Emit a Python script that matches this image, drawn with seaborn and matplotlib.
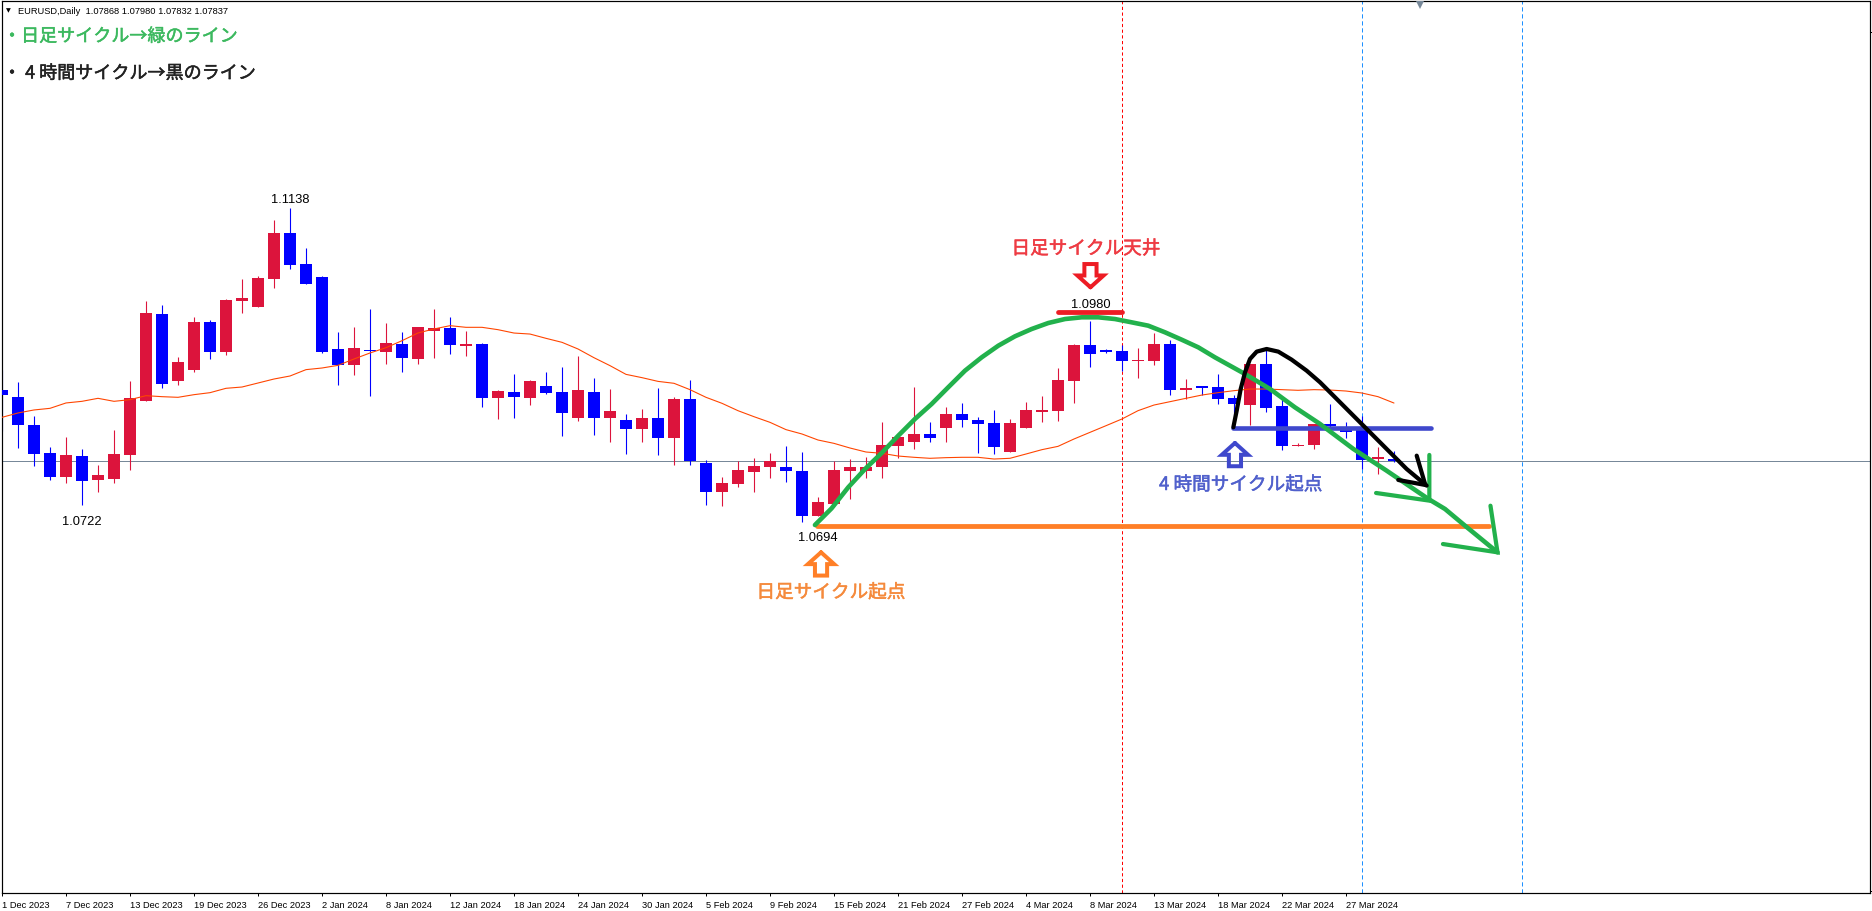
#!/usr/bin/env python

import seaborn as sns
import matplotlib.pyplot as plt
import matplotlib.patheffects as pe
import pandas as pd

# Daily EURUSD candles
opens = [1.08834, 1.08736, 1.08345, 1.07953, 1.07618, 1.07911, 1.07576, 1.07590, 1.07925, 1.08681,
         1.09897, 1.08960, 1.09114, 1.09785, 1.09366, 1.10079, 1.09995, 1.10387, 1.11030, 1.10597,
         1.10415, 1.09408, 1.09184, 1.09394, 1.09366, 1.09478, 1.09268, 1.09660, 1.09702, 1.09450,
         1.09478, 1.08722, 1.08806, 1.08722, 1.08890, 1.08806, 1.08443, 1.08806, 1.08443, 1.08415,
         1.08289, 1.08443, 1.08163, 1.08708, 1.07813, 1.07408, 1.07520, 1.07687, 1.07757, 1.07757,
         1.07701, 1.07072, 1.07240, 1.07701, 1.07701, 1.07757, 1.08051, 1.08107, 1.08219, 1.08303,
         1.08499, 1.08415, 1.08373, 1.07967, 1.08303, 1.08527, 1.08541, 1.08960, 1.09464, 1.09394,
         1.09380, 1.09240, 1.09240, 1.09478, 1.08834, 1.08890, 1.08876, 1.08722, 1.08624, 1.09198,
         1.08610, 1.08051, 1.08065, 1.08359, 1.08275, 1.08303, 1.07869, 1.07868]
highs = [1.09114, 1.08946, 1.08471, 1.08037, 1.08177, 1.08009, 1.07785, 1.08275, 1.08960, 1.10079,
         1.10023, 1.09296, 1.09855, 1.09813, 1.10107, 1.10387, 1.10429, 1.11212, 1.11380, 1.10820,
         1.10429, 1.09646, 1.09715, 1.09967, 1.09771, 1.09646, 1.09715, 1.09967, 1.09855, 1.09660,
         1.09492, 1.08834, 1.09058, 1.08974, 1.09086, 1.09156, 1.09310, 1.09002, 1.08848, 1.08499,
         1.08569, 1.08862, 1.08736, 1.08974, 1.07855, 1.07617, 1.07841, 1.07883, 1.07953, 1.08051,
         1.07967, 1.07338, 1.07841, 1.07869, 1.07897, 1.08387, 1.08233, 1.08876, 1.08387, 1.08597,
         1.08652, 1.08457, 1.08555, 1.08429, 1.08666, 1.08750, 1.09142, 1.09478, 1.09799, 1.09408,
         1.09464, 1.09422, 1.09631, 1.09534, 1.08988, 1.08890, 1.09058, 1.08764, 1.09198, 1.09408,
         1.08708, 1.08093, 1.08359, 1.08638, 1.08387, 1.08471, 1.08037, 1.07980]
lows = [1.08266, 1.08023, 1.07771, 1.07576, 1.07534, 1.07226, 1.07408, 1.07534, 1.07715, 1.08681,
        1.08862, 1.08904, 1.09086, 1.09268, 1.09324, 1.09911, 1.09995, 1.10261, 1.10527, 1.10317,
        1.09352, 1.08904, 1.09044, 1.08750, 1.09198, 1.09086, 1.09198, 1.09282, 1.09338, 1.09310,
        1.08597, 1.08429, 1.08443, 1.08624, 1.08778, 1.08191, 1.08401, 1.08205, 1.08107, 1.07939,
        1.08107, 1.07925, 1.07785, 1.07785, 1.07226, 1.07212, 1.07478, 1.07408, 1.07604, 1.07548,
        1.06988, 1.07072, 1.07240, 1.07310, 1.07604, 1.07604, 1.07883, 1.08009, 1.08107, 1.08107,
        1.08317, 1.07953, 1.07939, 1.07967, 1.08303, 1.08387, 1.08401, 1.08652, 1.09161, 1.09352,
        1.09100, 1.09002, 1.09184, 1.08764, 1.08708, 1.08764, 1.08638, 1.08335, 1.08345, 1.08527,
        1.07995, 1.08051, 1.08009, 1.08289, 1.08163, 1.07729, 1.07659, 1.07832]
closes = [1.08764, 1.08345, 1.07939, 1.07618, 1.07925, 1.07562, 1.07646, 1.07939, 1.08722, 1.09911,
          1.08918, 1.09226, 1.09785, 1.09366, 1.10093, 1.10121, 1.10401, 1.11030, 1.10583, 1.10317,
          1.09366, 1.09184, 1.09422, 1.09380, 1.09492, 1.09282, 1.09715, 1.09702, 1.09464, 1.09478,
          1.08722, 1.08820, 1.08736, 1.08960, 1.08792, 1.08513, 1.08834, 1.08443, 1.08541, 1.08289,
          1.08443, 1.08163, 1.08708, 1.07841, 1.07408, 1.07534, 1.07715, 1.07771, 1.07841, 1.07701,
          1.07072, 1.07268, 1.07715, 1.07757, 1.07757, 1.08065, 1.08177, 1.08219, 1.08163, 1.08499,
          1.08415, 1.08359, 1.08037, 1.08373, 1.08555, 1.08555, 1.08974, 1.09464, 1.09338, 1.09366,
          1.09240, 1.09254, 1.09478, 1.08834, 1.08862, 1.08862, 1.08708, 1.08638, 1.09198, 1.08583,
          1.08051, 1.08065, 1.08359, 1.08331, 1.08247, 1.07855, 1.07897, 1.07837]
moving_avg = [1.08452, 1.08513, 1.08555, 1.08578, 1.08653, 1.08676, 1.08718, 1.08676, 1.08699, 1.08755,
              1.08741, 1.08732, 1.08769, 1.08797, 1.08858, 1.08876, 1.08932, 1.08988, 1.09030, 1.09119,
              1.09142, 1.09179, 1.09268, 1.09352, 1.09426, 1.09524, 1.09632, 1.09688, 1.09734, 1.09711,
              1.09711, 1.09678, 1.09631, 1.09617, 1.09557, 1.09501, 1.09408, 1.09286, 1.09175, 1.09053,
              1.09007, 1.08955, 1.08928, 1.08839, 1.08732, 1.08648, 1.08545, 1.08461, 1.08382, 1.08280,
              1.08219, 1.08135, 1.08088, 1.08023, 1.07967, 1.07949, 1.07911, 1.07893, 1.07879, 1.07888,
              1.07893, 1.07893, 1.07869, 1.07879, 1.07939, 1.08000, 1.08046, 1.08149, 1.08242, 1.08335,
              1.08429, 1.08545, 1.08624, 1.08671, 1.08718, 1.08764, 1.08797, 1.08825, 1.08848, 1.08848,
              1.08839, 1.08830, 1.08839, 1.08834, 1.08820, 1.08792, 1.08741, 1.08652]

tick_labels = ["1 Dec 2023", "7 Dec 2023", "13 Dec 2023", "19 Dec 2023", "26 Dec 2023", "2 Jan 2024",
               "8 Jan 2024", "12 Jan 2024", "18 Jan 2024", "24 Jan 2024", "30 Jan 2024", "5 Feb 2024",
               "9 Feb 2024", "15 Feb 2024", "21 Feb 2024", "27 Feb 2024", "4 Mar 2024", "8 Mar 2024",
               "13 Mar 2024", "18 Mar 2024", "22 Mar 2024", "27 Mar 2024"]

last_price = 1.07837
red_vline = 70
blue_vlines = [85, 95]

# hand drawn lines: bar position and price
green_x = [50.81, 51.85, 52.89, 53.94, 54.98, 56.02, 57.06, 58.10, 59.14, 60.19, 61.23, 62.27, 63.31,
           64.35, 65.39, 66.44, 67.48, 68.52, 69.56, 70.60, 71.64, 72.69, 73.73, 74.77, 75.81,
           77.69, 79.25, 80.81, 82.38, 84.46, 86.54, 89.15, 90.19, 91.56, 93.47]
green_y = [1.06946, 1.07179, 1.07473, 1.07729, 1.07953, 1.08196, 1.08429, 1.08638, 1.08872, 1.09105,
           1.09291, 1.09454, 1.09585, 1.09687, 1.09771, 1.09827, 1.09851, 1.09851, 1.09827, 1.09781,
           1.09734, 1.09641, 1.09538, 1.09431, 1.09291, 1.09058, 1.08849, 1.08592, 1.08359, 1.08010,
           1.07706, 1.07310, 1.07170, 1.06914, 1.06564]
green_head1_x = [89.21, 89.21, 85.88]
green_head1_y = [1.07926, 1.07287, 1.07394]
green_head2_x = [93.03, 93.47, 90.06]
green_head2_y = [1.07216, 1.06564, 1.06680]
black_x = [76.96, 77.17, 77.42, 77.69, 78.0, 78.42, 79.04, 79.77, 80.6, 81.54, 82.38, 83.42, 84.46,
           85.5, 86.54, 87.79, 89.04]
black_y = [1.08313, 1.08546, 1.08849, 1.09082, 1.09268, 1.09371, 1.09408, 1.09371, 1.09259, 1.09105,
           1.08942, 1.08709, 1.08476, 1.08243, 1.08010, 1.07730, 1.07497]
black_head_x = [88.42, 88.96, 87.27]
black_head_y = [1.07916, 1.07506, 1.07576]

# level lines: price, first bar, last bar
orange_level = (1.06928, 50.92, 92.94)
blue_level = (1.08299, 76.95, 89.30)
red_level = (1.09921, 66.0, 70.03)

GREEN = "#22B14C"
ORANGE = "#FF7F27"
RED = "#ED1C24"
INDIGO = "#3F48CC"

W, H = 1872, 912
PX = 0.72  # one pixel in points at dpi 100


def fig_text(x, y, s, **kw):
    # x, y are pixels from the top left corner of the picture
    fig.text(x / W, 1 - y / H, s, **kw)


def jp_text(x, y, s, color, size):
    # small stroke because the original font is heavier than regular Noto
    fig_text(x, y, s, fontsize=size, color=color, va="center",
             path_effects=[pe.withStroke(linewidth=0.35, foreground=color)])


def block_arrow(bar, tip, sign, color):
    # hollow arrow, sign 1 points up and -1 points down
    head = 0.00165 * sign
    tail = 0.00325 * sign
    xs = [bar, bar + 0.82, bar + 0.38, bar + 0.38, bar - 0.38, bar - 0.38, bar - 0.82, bar]
    ys = [tip, tip - head, tip - head, tip - tail, tip - tail, tip - head, tip - head, tip]
    ax.plot(xs, ys, color=color, lw=4 * PX, solid_joinstyle="miter", zorder=6)


df = pd.DataFrame({"open": opens, "high": highs, "low": lows, "close": closes, "ma": moving_avg})
df["bar"] = df.index
df["color"] = ["#DC143C" if c > o else "#0000FF" for o, c in zip(df["open"], df["close"])]
df["top"] = df[["open", "close"]].max(axis=1)
df["bottom"] = df[["open", "close"]].min(axis=1)

sns.set_theme(style="white")
plt.rcParams["font.family"] = ["Noto Sans CJK JP", "DejaVu Sans"]

fig = plt.figure(figsize=(W / 100, H / 100), dpi=100, facecolor="white")
ax = fig.add_axes([1.5 / W, (H - 894.3) / H, 1868 / W, 892.3 / H])

# price line and cycle markers sit behind the candles
ax.axhline(last_price, color="#778899", lw=PX, zorder=1)
ax.axvline(red_vline, color="#FF0000", lw=PX, ls=(0, (3.2, 2.5)), zorder=1)
for b in blue_vlines:
    ax.axvline(b, color="#1E90FF", lw=PX, ls=(0, (4.2, 2.8)), zorder=1)

ax.vlines(df["bar"], df["low"], df["high"], colors=df["color"], lw=PX * 1.1, zorder=2)
ax.bar(df["bar"], df["top"] - df["bottom"], bottom=df["bottom"], width=0.69,
       color=df["color"], linewidth=0, zorder=3)
sns.lineplot(data=df, x="bar", y="ma", color="#FF4500", lw=1.1 * PX, errorbar=None, ax=ax, zorder=4)

for level, color, lw in [(orange_level, ORANGE, 4.8), (blue_level, INDIGO, 4.6), (red_level, RED, 4.8)]:
    ax.plot(level[1:], [level[0], level[0]], color=color, lw=lw * PX, solid_capstyle="round", zorder=5)

sns.lineplot(x=green_x, y=green_y, sort=False, color=GREEN, lw=4.6 * PX, errorbar=None, ax=ax, zorder=6,
             solid_joinstyle="round", solid_capstyle="round")
sns.lineplot(x=black_x, y=black_y, sort=False, color="black", lw=4.2 * PX, errorbar=None, ax=ax, zorder=7,
             solid_joinstyle="round", solid_capstyle="round")
for xs, ys in [(green_head1_x, green_head1_y), (green_head2_x, green_head2_y)]:
    ax.plot(xs, ys, color=GREEN, lw=4.2 * PX, solid_capstyle="round", solid_joinstyle="miter", zorder=6)
ax.plot(black_head_x, black_head_y, color="black", lw=4.2 * PX, solid_capstyle="round", zorder=7)

block_arrow(51.19, 1.06564, 1, ORANGE)
block_arrow(68.03, 1.10271, -1, RED)
block_arrow(77.06, 1.08093, 1, INDIGO)

# little scale marker on the top edge
ax.plot([88.6], [1.14233], marker="v", ms=6.5, color="#778899", mew=0, ls="none", zorder=8)

ax.set_xlim(-0.03125, 116.72)
ax.set_ylim(1.01795, 1.14275)
ax.set_xlabel("")
ax.set_ylabel("")
ax.set_xticks(range(0, len(tick_labels) * 4, 4))
ax.set_xticklabels(tick_labels, ha="left", fontsize=6.7, family="Liberation Sans", color="black")
ax.yaxis.tick_right()
ax.set_yticks([1.01831, 1.13841])
ax.set_yticklabels(["", ""])
ax.tick_params(axis="x", length=3 * PX, width=PX, pad=2.5, color="black", bottom=True)
ax.tick_params(axis="y", length=2 * PX, width=PX, right=True, color="black")
for spine in ax.spines.values():
    spine.set_color("black")
    spine.set_linewidth(PX * 1.2)

# header
fig_text(8, 11, "\u25bc", fontsize=4.5, color="black", ha="center", va="center", family="DejaVu Sans")
fig_text(17.5, 11, "EURUSD,Daily  1.07868 1.07980 1.07832 1.07837", fontsize=6.7, color="black",
         va="center", family="Liberation Sans")
jp_text(3, 37.5, "・日足サイクル→緑のライン", "#3CB95F", 13)
jp_text(3, 74.5, "・ 4 時間サイクル→黒のライン", "#222222", 13)

# high and low labels
for x, y, s in [(290.7, 200, "1.1138"), (82.3, 522.3, "1.0722"), (818.3, 538.3, "1.0694"), (1090.4, 305, "1.0980")]:
    fig_text(x, y, s, fontsize=9.3, color="black", ha="center", va="center", family="Liberation Sans")

jp_text(756.5, 593.7, "日足サイクル起点", "#F58A3C", 13.4)
jp_text(1011.5, 250, "日足サイクル天井", "#EE3B43", 13.4)
jp_text(1159, 486, "4 時間サイクル起点", "#5060CC", 13.4)

fig.savefig("out.png", dpi=100, facecolor="white")
